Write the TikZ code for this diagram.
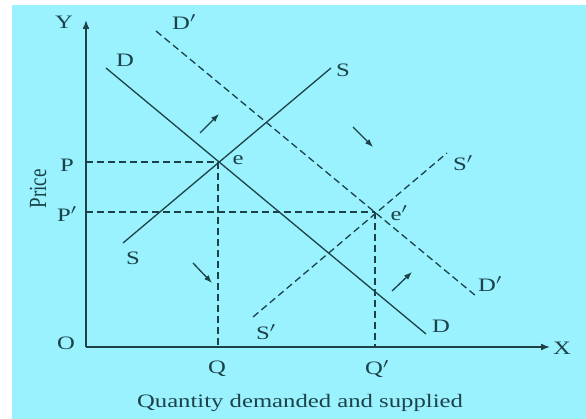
\documentclass[tikz,border=0pt]{standalone}
\usepackage{fontspec}
\usepackage{graphicx}
\setmainfont{Liberation Serif}
\usetikzlibrary{arrows.meta}
\definecolor{bgcyan}{HTML}{9AF2FF}
\definecolor{ink}{HTML}{1C4248}
\newcommand{\widetxt}[1]{\scalebox{1.3}[1]{#1}}
\tikzset{
  curve/.style={draw=ink, line width=1.3pt},
  dcurve/.style={draw=ink, line width=1.3pt, dash pattern=on 7pt off 4pt},
  guide/.style={draw=ink, line width=1.3pt, dash pattern=on 7pt off 4pt},
  axis/.style={draw=ink, line width=1.6pt, -{Latex[length=9pt,width=7pt]}},
  shift arrow/.style={draw=ink, line width=1.3pt, -{Latex[length=8pt,width=6pt]}},
  lbl/.style={text=ink, font=\fontsize{19}{22}\selectfont, inner sep=0pt},
}
\begin{document}
\begin{tikzpicture}[x=1pt,y=-1pt]
\useasboundingbox (0,0) rectangle (586,419);
\fill[white] (0,0) rectangle (586,419);
\fill[bgcyan] (12,5) rectangle (586,419);
% axes
\coordinate (O) at (86,347);
\coordinate (Ytip) at (86,20);
\coordinate (Xtip) at (550,347);
\draw[axis] (O) -- (Ytip);
\draw[axis] (O) -- (Xtip);
\node[lbl] (Ylbl) at (64,22) {\widetxt{Y}};
\node[lbl] (Xlbl) at (562,348) {\widetxt{X}};
\node[lbl] (Olbl) at (66,343) {\widetxt{O}};
\node[lbl, rotate=90] (price) at (38,189) {\scalebox{1}[1.3]{Price}};
\node[lbl] (cap) at (300,403) {\widetxt{Quantity demanded and supplied}};
% curves
\coordinate (D1) at (106,68);
\coordinate (D2) at (426,334);
\coordinate (S1) at (123,243);
\coordinate (S2) at (331,68);
\coordinate (Dp1) at (156,31);
\coordinate (Dp2) at (476,296);
\coordinate (Sp1) at (253,317);
\coordinate (Sp2) at (447,153);
\draw[curve] (D1) -- (D2);
\draw[curve] (S1) -- (S2);
\draw[dcurve] (Dp1) -- (Dp2);
\draw[dcurve] (Sp1) -- (Sp2);
\node[lbl] (Dl1) at (125,60) {\widetxt{D}};
\node[lbl] (Dl2) at (441,326) {\widetxt{D}};
\node[lbl] (Sl1) at (133,258) {\widetxt{S}};
\node[lbl] (Sl2) at (343,70) {\widetxt{S}};
\node[lbl] (Dpl1) at (184,22) {\widetxt{D$'$}};
\node[lbl] (Dpl2) at (490,284) {\widetxt{D$'$}};
\node[lbl] (Spl1) at (266,332) {\widetxt{S$'$}};
\node[lbl] (Spl2) at (463,163) {\widetxt{S$'$}};
% equilibria
\coordinate (e) at (218,162);
\coordinate (ep) at (375,212);
\node[lbl] (el) at (238,160) {\widetxt{e}};
\node[lbl] (epl) at (399,213) {\widetxt{e$'$}};
\coordinate (Py) at (86,162);
\coordinate (Ppy) at (86,212);
\coordinate (Qx) at (218,347);
\coordinate (Qpx) at (375,347);
\draw[guide] (Py) -- (e);
\draw[guide] (Ppy) -- (ep);
\draw[guide] (e) -- (Qx);
\draw[guide] (ep) -- (Qpx);
\node[lbl] (Pl) at (67,165) {\widetxt{P}};
\node[lbl] (Ppl) at (67,214) {\widetxt{P$'$}};
\node[lbl] (Ql) at (217,369) {\widetxt{Q}};
\node[lbl] (Qpl) at (377,369) {\widetxt{Q$'$}};
% shift arrows
\coordinate (a1s) at (200,133); \coordinate (a1e) at (219,114);
\coordinate (a2s) at (353,127); \coordinate (a2e) at (373,147);
\coordinate (a3s) at (193,263); \coordinate (a3e) at (212,283);
\coordinate (a4s) at (392,291); \coordinate (a4e) at (412,272);
\draw[shift arrow] (a1s) -- (a1e);
\draw[shift arrow] (a2s) -- (a2e);
\draw[shift arrow] (a3s) -- (a3e);
\draw[shift arrow] (a4s) -- (a4e);
\end{tikzpicture}
\end{document}
